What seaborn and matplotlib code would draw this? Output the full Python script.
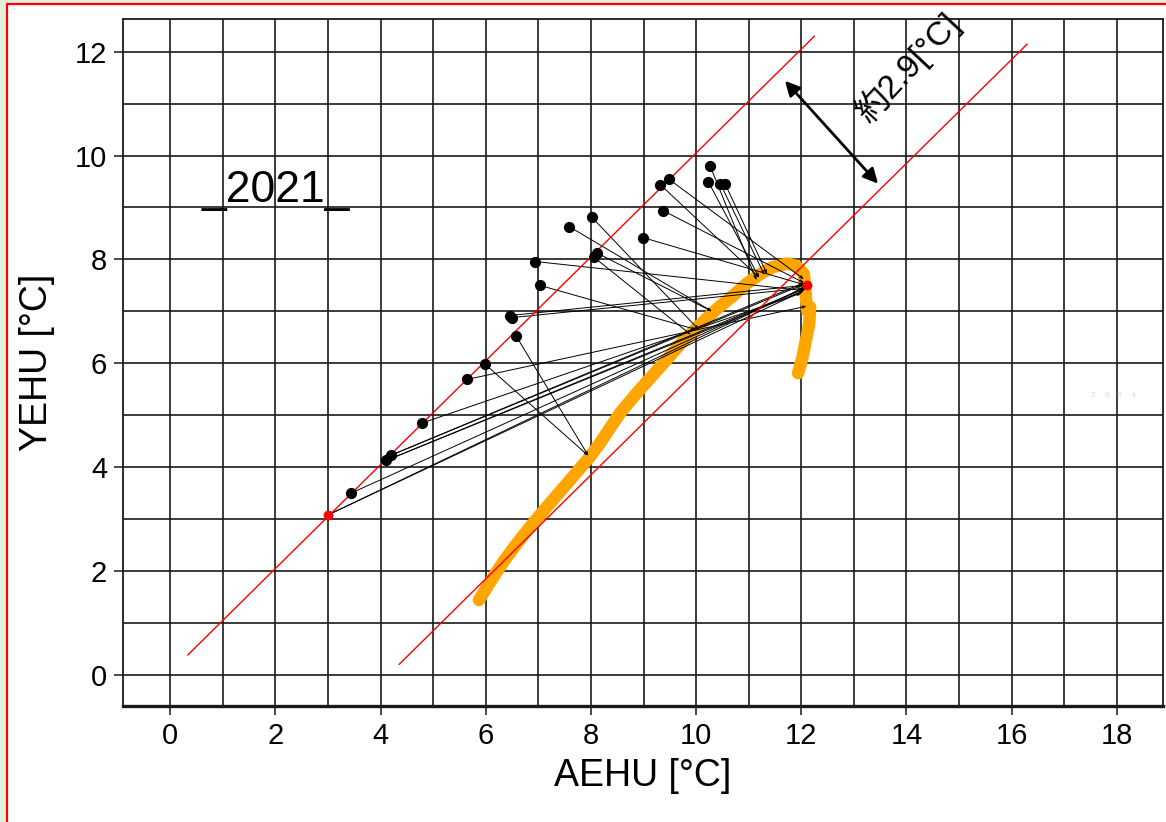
import numpy as np
import pandas as pd
import matplotlib
matplotlib.use("Agg")
import matplotlib.pyplot as plt
import seaborn as sns
from matplotlib.patches import Rectangle

# black measurement points
black_x = [3.44, 4.11, 4.20, 4.79, 5.65, 5.99, 6.58, 6.46, 6.50, 7.03, 6.94, 7.59,
           8.02, 8.12, 8.06, 8.99, 9.37, 9.32, 9.49, 10.27, 10.23, 10.46, 10.55]
black_y = [3.50, 4.13, 4.23, 4.85, 5.69, 5.98, 6.52, 6.92, 6.88, 7.50, 7.96, 8.63,
           8.81, 8.12, 8.04, 8.42, 8.94, 9.44, 9.54, 9.79, 9.50, 9.46, 9.46]

# connecting lines (start -> end)
link_x0 = [3.00, 3.00, 3.44, 4.11, 4.11, 4.20, 4.20, 4.79, 5.65, 5.99, 6.58, 6.46,
           6.50, 7.03, 6.94, 7.59, 8.02, 8.12, 8.06, 8.99, 9.37, 9.32, 9.49, 10.27,
           10.23, 10.46, 10.55]
link_y0 = [3.08, 3.08, 3.50, 4.13, 4.13, 4.23, 4.23, 4.85, 5.69, 5.98, 6.52, 6.92,
           6.88, 7.50, 7.96, 8.63, 8.81, 8.12, 8.04, 8.42, 8.94, 9.44, 9.54, 9.79,
           9.50, 9.46, 9.46]
link_x1 = [12.05, 12.10, 12.05, 12.05, 12.10, 12.00, 12.05, 12.00, 12.10, 7.95, 7.95,
           12.05, 12.10, 10.00, 12.05, 10.30, 10.05, 10.30, 9.90, 12.10, 12.05, 11.20,
           12.05, 11.15, 11.20, 11.30, 11.35]
link_y1 = [7.40, 7.48, 7.45, 7.40, 7.45, 7.50, 7.55, 7.35, 7.10, 4.22, 4.22,
           7.50, 7.45, 6.65, 7.40, 7.00, 6.65, 7.00, 6.55, 7.50, 7.55, 7.65,
           7.62, 7.60, 7.65, 7.70, 7.72]

# red end points
red_x = [3.00, 12.10]
red_y = [3.08, 7.50]

# orange trace
orange_x = [5.87, 6.00, 6.14, 6.35, 6.60, 6.90, 7.20, 7.55, 7.98, 8.17, 8.56, 8.85,
            9.13, 9.45, 9.70, 10.02, 10.40, 10.70, 10.97, 11.22, 11.45, 11.73, 11.90,
            12.05, 12.11, 12.17, 12.15, 12.11, 12.02, 11.94]
orange_y = [1.44, 1.65, 1.88, 2.20, 2.54, 2.92, 3.28, 3.69, 4.20, 4.46, 5.05, 5.40,
            5.72, 6.08, 6.37, 6.69, 7.05, 7.30, 7.54, 7.72, 7.85, 7.92, 7.88,
            7.72, 7.60, 7.08, 6.75, 6.44, 6.10, 5.81]

# guide lines y = x + offset
guide_offset = [0.05, -4.15]
guide_x0 = [0.33, 4.35]
guide_x1 = [12.25, 16.30]

x_ticks = [0, 2, 4, 6, 8, 10, 12, 14, 16, 18]
y_ticks = [0, 2, 4, 6, 8, 10, 12]

sns.set_style("white")
plt.rcParams["font.family"] = ["Liberation Sans", "Noto Sans CJK JP", "DejaVu Sans"]
plt.rcParams.update({"text.color": "black", "axes.labelcolor": "black",
                     "xtick.color": "black", "ytick.color": "black"})

fig = plt.figure(figsize=(11.66, 8.22), dpi=100)
fig.patch.set_facecolor("#e2efda")
fig.patches.append(Rectangle((7 / 1166, -0.02), 1.1, 1.02 - 4 / 822, transform=fig.transFigure,
                             facecolor="white", edgecolor="#ff0000", lw=1.6, zorder=-5))
ax = fig.add_axes([123 / 1166, 1 - 706 / 822, 1040 / 1166, 687 / 822])

ax.set_xlim(-0.9, 18.88)
ax.set_ylim(-0.6, 12.63)
ax.set_xticks(x_ticks)
ax.set_yticks(y_ticks)
ax.set_xticks(np.arange(0, 19, 1), minor=True)
ax.set_yticks(np.arange(0, 13, 1), minor=True)
ax.grid(which="both", color="#1a1a1a", lw=1.2)
ax.set_axisbelow(True)
ax.tick_params(which="major", direction="out", length=6.5, width=1.1, color="#1a1a1a",
               labelsize=21, labelcolor="black", pad=5, bottom=True, left=True)
ax.tick_params(which="minor", length=0)
for s in ax.spines.values():
    s.set_color("#1a1a1a")
    s.set_linewidth(1.3)
ax.spines["bottom"].set_linewidth(2.4)

# orange trace
orange = pd.DataFrame({"x": orange_x, "y": orange_y})
sns.lineplot(data=orange, x="x", y="y", sort=False, color="#ffa500", lw=9,
             solid_capstyle="round", solid_joinstyle="round", ax=ax, zorder=2)

# links with small arrow tips
for x0, y0, x1, y1 in zip(link_x0, link_y0, link_x1, link_y1):
    ax.annotate("", xy=(x1, y1), xytext=(x0, y0),
                arrowprops=dict(arrowstyle="->,head_length=0.22,head_width=0.08",
                                color="black", lw=0.7, shrinkA=0, shrinkB=0), zorder=3)

# red guide lines
for off, a, b in zip(guide_offset, guide_x0, guide_x1):
    sns.lineplot(x=[a, b], y=[a + off, b + off], color="#ff0000", lw=1.0, ax=ax, zorder=4)

sns.scatterplot(x=black_x, y=black_y, color="black", s=65, marker="o", edgecolor="black",
                linewidth=0, ax=ax, zorder=5)
sns.scatterplot(x=red_x, y=red_y, color="#ff0000", s=50, marker="o", edgecolor="#ff0000",
                linewidth=0, ax=ax, zorder=6)

# distance arrow and label
ax.annotate("", xy=(11.69, 11.44), xytext=(13.46, 9.46),
            arrowprops=dict(arrowstyle="<|-|>", color="black", lw=2, mutation_scale=22,
                            shrinkA=0, shrinkB=0), zorder=6)
ax.text(14.03, 11.69, "約2.9[°C]", rotation=47, fontsize=24, ha="center", va="center",
        rotation_mode="anchor", zorder=6)

ax.text(2.0, 9.1, "_2021_", fontsize=32, ha="center", va="baseline", zorder=6)
ax.text(17.93, 5.38, "2    0   2    4", fontsize=6, color="#d8d8d8", ha="center",
        va="center", zorder=6)

ax.set_xlabel("AEHU [°C]", fontsize=27, labelpad=6)
ax.set_ylabel("YEHU [°C]", fontsize=27, labelpad=14)

fig.savefig("out.png", dpi=100, facecolor=fig.get_facecolor())
